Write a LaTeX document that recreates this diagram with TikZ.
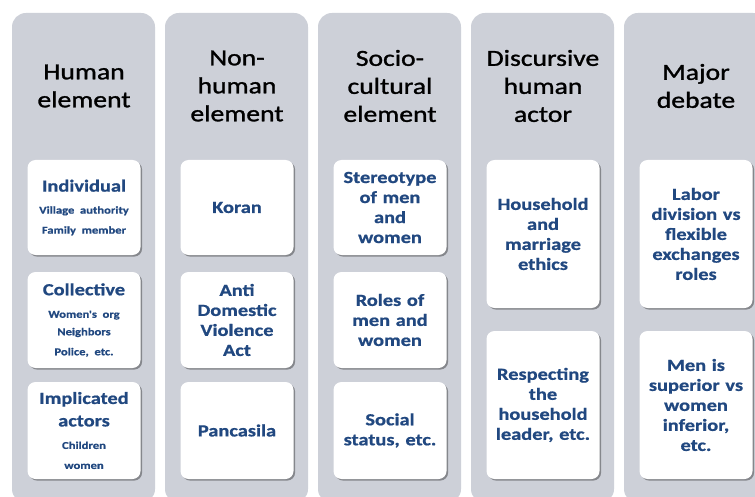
\documentclass[tikz,border=0pt]{standalone}
\usepackage{fontspec}
\setmainfont[FakeStretch=1.2]{Carlito}
\newfontfamily\headfont[FakeStretch=1.2,FakeBold=1.3]{Carlito}
\newfontfamily\cardfont[FakeStretch=1.2,FakeBold=0.8]{Carlito}
\usetikzlibrary{shadows}
\definecolor{panelgray}{RGB}{205,208,216}
\definecolor{txtblue}{RGB}{33,72,128}
\newcommand{\smtxt}{\fontsize{10.5}{17.5}\selectfont}
\tikzset{
  panelbox/.style={fill=panelgray, rounded corners=14pt},
  card/.style={fill=white, rounded corners=8pt,
    drop shadow={shadow xshift=1.6pt, shadow yshift=-1.6pt, fill=black, opacity=0.35},
    text width=113pt, minimum width=113pt, inner sep=0pt, align=center,
    text=txtblue, font=\cardfont\bfseries\frenchspacing\fontsize{17}{20}\selectfont},
  head/.style={align=center, text=black, font=\headfont\fontsize{23}{28}\selectfont, inner sep=0pt}
}
\begin{document}
\begin{tikzpicture}[x=1pt,y=-1pt]
\useasboundingbox (0,0) rectangle (755,497);
\fill[white] (0,0) rectangle (755,497);
\begin{scope}
\clip (0,0) rectangle (755,497);
\foreach \i in {0,...,4}{
  \fill[panelbox] ({12+153*\i},13) rectangle ({155+153*\i},503);
}
\end{scope}
% headers
\node[head] (h1) at (84,86) {Human\\element};
\node[head] (h2) at (237,86) {Non-\\human\\element};
\node[head] (h3) at (390,86) {Socio-\\cultural\\element};
\node[head] (h4) at (543,86) {Discursive\\human\\actor};
\node[head] (h5) at (696,86) {Major\\debate};
% column 1
\node[card, minimum height=95pt] (c11) at (84,207.5) {Individual\\[4.5pt]\smtxt Village authority\\Family member};
\node[card, minimum height=96pt] (c12) at (84,320) {Collective\\[5pt]\smtxt Women's org\\Neighbors\\Police, etc.};
\node[card, minimum height=97pt] (c13) at (84,430.5) {Implicated\\[2.5pt]actors\\[5pt]\smtxt Children\\women};
% column 2
\node[card, minimum height=95pt] (c21) at (237,207.5) {Koran};
\node[card, minimum height=96pt] (c22) at (237,320) {Anti\\Domestic\\Violence\\Act};
\node[card, minimum height=97pt] (c23) at (237,430.5) {Pancasila};
% column 3
\node[card, minimum height=95pt] (c31) at (390,207.5) {Stereotype\\of men\\and\\women};
\node[card, minimum height=96pt] (c32) at (390,320) {Roles of\\men and\\women};
\node[card, minimum height=97pt] (c33) at (390,430.5) {Social\\status, etc.};
% column 4
\node[card, minimum height=148pt] (c41) at (543,234) {Household\\and\\marriage\\ethics};
\node[card, minimum height=148pt] (c42) at (543,405) {Respecting\\the\\household\\leader, etc.};
% column 5
\node[card, minimum height=148pt] (c51) at (696,234) {Labor\\division vs\\flexible\\exchanges\\roles};
\node[card, minimum height=148pt] (c52) at (696,405) {Men is\\superior vs\\women\\inferior,\\etc.};
\end{tikzpicture}
\end{document}
